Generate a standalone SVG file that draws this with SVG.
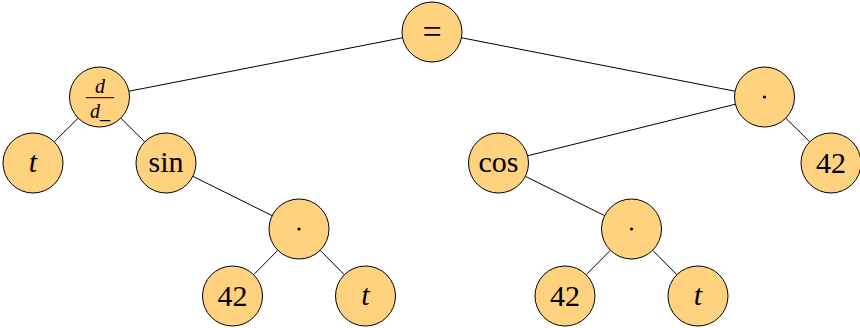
<svg xmlns="http://www.w3.org/2000/svg" width="860" height="328" viewBox="0 0 860 328">
<style>
.n{fill:#FFD27F;stroke:#000;stroke-width:1}
.e{stroke:#000;stroke-width:1;fill:none}
.t{font-family:"Liberation Serif","DejaVu Serif",serif;font-size:30px;text-anchor:middle;fill:#000}
.i{font-style:italic}
.s{font-size:20px}
</style>
<rect width="860" height="328" fill="#fff"/>
<g id="connectors">
<line class="e" x1="402.56" y1="37.76" x2="128.94" y2="91.24"/>
<line class="e" x1="461.44" y1="37.76" x2="735.06" y2="91.24"/>
<line class="e" x1="78.21" y1="118.13" x2="54.29" y2="141.87"/>
<line class="e" x1="120.79" y1="118.13" x2="144.71" y2="141.87"/>
<line class="e" x1="192.87" y1="176.34" x2="272.13" y2="215.66"/>
<line class="e" x1="277.87" y1="250.29" x2="253.63" y2="274.71"/>
<line class="e" x1="320.13" y1="250.29" x2="344.37" y2="274.71"/>
<line class="e" x1="735.38" y1="104.22" x2="527.62" y2="155.78"/>
<line class="e" x1="785.79" y1="118.13" x2="809.71" y2="141.87"/>
<line class="e" x1="525.37" y1="176.34" x2="604.63" y2="215.66"/>
<line class="e" x1="610.37" y1="250.29" x2="586.13" y2="274.71"/>
<line class="e" x1="652.63" y1="250.29" x2="676.87" y2="274.71"/>
</g>
<g id="eq"><circle class="n" cx="432" cy="32" r="30"/><text class="t" x="432" y="42.5" style="font-size:34px">=</text></g>
<g id="deriv"><circle class="n" cx="99.5" cy="97" r="30"/>
<text class="t s i" x="100" y="93">d</text>
<line class="e" x1="86" y1="97.7" x2="114" y2="97.7"/>
<text class="t s i" x="100" y="118">d_</text></g>
<g id="dotR"><circle class="n" cx="764.5" cy="97" r="30"/><circle cx="764.5" cy="97" r="1.6" fill="#000"/></g>
<g id="t1"><circle class="n" cx="33" cy="163" r="30"/><text class="t i" x="33" y="172">t</text></g>
<g id="sin"><circle class="n" cx="166" cy="163" r="30"/><text class="t" x="166" y="172">sin</text></g>
<g id="cos"><circle class="n" cx="498.5" cy="163" r="30"/><text class="t" x="498.5" y="172">cos</text></g>
<g id="n42R"><circle class="n" cx="831" cy="163" r="30"/><text class="t" x="831" y="173">42</text></g>
<g id="dotL"><circle class="n" cx="299" cy="229" r="30"/><circle cx="299" cy="229" r="1.6" fill="#000"/></g>
<g id="dotM"><circle class="n" cx="631.5" cy="229" r="30"/><circle cx="631.5" cy="229" r="1.6" fill="#000"/></g>
<g id="n42a"><circle class="n" cx="232.5" cy="296" r="30"/><text class="t" x="232.5" y="306">42</text></g>
<g id="t2"><circle class="n" cx="365.5" cy="296" r="30"/><text class="t i" x="365.5" y="305">t</text></g>
<g id="n42b"><circle class="n" cx="565" cy="296" r="30"/><text class="t" x="565" y="306">42</text></g>
<g id="t3"><circle class="n" cx="698" cy="296" r="30"/><text class="t i" x="698" y="305">t</text></g>
</svg>
